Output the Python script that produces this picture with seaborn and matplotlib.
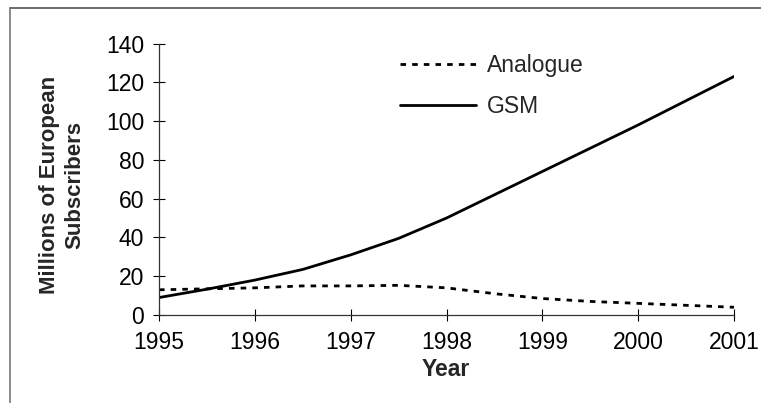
import pandas as pd
import matplotlib.pyplot as plt
import seaborn as sns
from matplotlib.lines import Line2D

# Data (half-year readings)
years = [1995, 1995.5, 1996, 1996.5, 1997, 1997.5, 1998, 1998.5,
         1999, 1999.5, 2000, 2000.5, 2001]
analogue = [13, 13.5, 14, 15, 15, 15.3, 14, 11, 8.5, 7, 6, 5, 4]
gsm = [9, 13.3, 18, 23.5, 31, 39.5, 50, 62, 74, 86, 98, 110.5, 123]
x_ticks = [1995, 1996, 1997, 1998, 1999, 2000, 2001]
y_ticks = [0, 20, 40, 60, 80, 100, 120, 140]

df = pd.DataFrame({
    "Year": years * 2,
    "Subscribers": analogue + gsm,
    "Series": ["Analogue"] * len(years) + ["GSM"] * len(years),
})

sns.set_theme(style="white")
plt.rcParams["font.family"] = ["Liberation Sans", "DejaVu Sans"]

fig = plt.figure(figsize=(7.61, 4.03), dpi=100)
ax = fig.add_axes([159 / 761, 1 - 315 / 403, 575 / 761, 271.5 / 403])

sns.lineplot(
    data=df, x="Year", y="Subscribers",
    hue="Series", style="Series",
    hue_order=["Analogue", "GSM"], style_order=["Analogue", "GSM"],
    palette={"Analogue": "black", "GSM": "black"},
    dashes={"Analogue": (2.0, 2.2), "GSM": ""},
    linewidth=2.0, ax=ax,
)

ax.set_xlim(1995, 2001)
ax.set_ylim(0, 140)
ax.set_xticks(x_ticks)
ax.set_yticks(y_ticks)
ax.tick_params(axis="both", labelsize=16.5, colors="black", direction="inout",
               length=8.5, width=0.8, left=True, bottom=True)
ax.tick_params(axis="x", pad=7.5)
ax.tick_params(axis="y", pad=6.5)

for side in ["top", "right"]:
    ax.spines[side].set_visible(False)
for side in ["left", "bottom"]:
    ax.spines[side].set_color("#333333")
    ax.spines[side].set_linewidth(0.9)

ax.set_xlabel("Year", fontsize=16.5, fontweight="bold")
ax.xaxis.set_label_coords(0.499, -0.16)
ax.set_ylabel("Millions of European\nSubscribers", fontsize=16, fontweight="bold",
              linespacing=1.3)
ax.yaxis.set_label_coords(-0.128, 0.48)

handles, labels = ax.get_legend_handles_labels()
ax.legend(handles, labels, loc="upper left", bbox_to_anchor=(0.419, 0.96),
          frameon=False, fontsize=16.5, handlelength=3.3, handletextpad=0.5,
          labelspacing=0.75, borderpad=0, borderaxespad=0)

# scanned page border
fig.add_artist(Line2D([10 / 761, 1], [1 - 7.5 / 403, 1 - 7.5 / 403],
                      color="#555555", lw=1.2))
fig.add_artist(Line2D([9.5 / 761, 9.5 / 761], [0, 1 - 7.5 / 403],
                      color="#777777", lw=1.2))

plt.savefig("out.png", dpi=100)
plt.close()
